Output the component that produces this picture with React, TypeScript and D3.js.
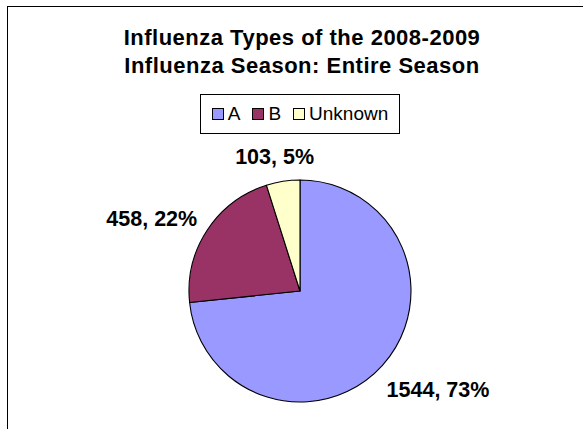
import React, { useEffect, useRef } from "react";
import * as d3 from "d3";

const categories = ["A", "B", "Unknown"];
const counts = [1544, 458, 103];
const colors = ["#9999FF", "#993366", "#FFFFCC"];
const titleLines = ["Influenza Types of the 2008-2009", "Influenza Season: Entire Season"];

const App: React.FC = () => {
  const chartRef = useRef<SVGSVGElement>(null);

  useEffect(() => {
    const width = 583;
    const height = 429;
    const cx = 300;
    const cy = 291;
    const radius = 111;
    const font = "'Liberation Sans', Arial, sans-serif";

    const svg = d3.select(chartRef.current);
    svg.selectAll("*").remove();
    svg.attr("width", width).attr("height", height);

    svg
      .append("rect")
      .attr("width", width)
      .attr("height", height)
      .attr("fill", "#fff");

    // outer chart border (right / bottom edges fall outside the picture)
    svg
      .append("rect")
      .attr("x", 7.5)
      .attr("y", 6.5)
      .attr("width", width + 20)
      .attr("height", height + 20)
      .attr("fill", "none")
      .attr("stroke", "#000")
      .attr("stroke-width", 1);

    // Title
    svg
      .append("g")
      .selectAll("text")
      .data(titleLines)
      .enter()
      .append("text")
      .attr("x", 302)
      .attr("y", (_d, i) => 45 + i * 28)
      .attr("text-anchor", "middle")
      .style("font-family", font)
      .style("font-weight", "bold")
      .style("font-size", "22px")
      .style("letter-spacing", "0.5px")
      .text((d) => d);

    // Legend
    const legend = svg.append("g");
    legend
      .append("rect")
      .attr("x", 200.5)
      .attr("y", 94.5)
      .attr("width", 199)
      .attr("height", 39)
      .attr("fill", "#fff")
      .attr("stroke", "#000");
    const sq = 11;
    const items = legend
      .selectAll("g.item")
      .data(categories)
      .enter()
      .append("g")
      .attr("class", "item");
    items
      .append("rect")
      .attr("width", sq)
      .attr("height", sq)
      .attr("y", 108.5)
      .attr("fill", (_d, i) => colors[i])
      .attr("stroke", "#000");
    const labels = items
      .append("text")
      .attr("y", 120)
      .style("font-family", font)
      .style("font-size", "19px")
      .text((d) => d);
    const widths: number[] = [];
    labels.each(function () {
      widths.push((this as SVGTextElement).getComputedTextLength());
    });
    const gap = 12;
    const total = d3.sum(widths) + categories.length * (sq + 5) + gap * (categories.length - 1);
    let x0 = 300 - total / 2;
    items.each(function (_d, i) {
      const g = d3.select(this);
      g.select("rect").attr("x", Math.round(x0) + 0.5);
      g.select("text").attr("x", x0 + sq + 5);
      x0 += sq + 5 + widths[i] + gap;
    });

    // Pie
    const pie = d3
      .pie<number>()
      .sort(null)
      .value((d) => d);
    const arcs = pie(counts);
    const arc = d3.arc<d3.PieArcDatum<number>>().innerRadius(0).outerRadius(radius);
    const sumAll = d3.sum(counts);

    const pieG = svg.append("g").attr("transform", `translate(${cx},${cy})`);
    pieG
      .selectAll("path")
      .data(arcs)
      .enter()
      .append("path")
      .attr("d", arc)
      .attr("fill", (_d, i) => colors[i])
      .attr("stroke", "#000")
      .attr("stroke-width", 1.1)
      .attr("stroke-linejoin", "round");

    // Data labels, outside end
    const pad = 22;
    const capH = 15.5;
    const dl = pieG
      .selectAll("text")
      .data(arcs)
      .enter()
      .append("text")
      .attr("text-anchor", "middle")
      .style("font-family", font)
      .style("font-weight", "bold")
      .style("font-size", "21.5px")
      .text((d) => `${d.data}, ${Math.round((d.data / sumAll) * 100)}%`);
    dl.each(function (d) {
      const t = this as SVGTextElement;
      const w = t.getComputedTextLength();
      const a = (d.startAngle + d.endAngle) / 2;
      const lx = (radius + w / 2 + pad) * Math.sin(a);
      const ly = -(radius + capH / 2 + pad) * Math.cos(a);
      d3.select(t)
        .attr("x", lx + 1)
        .attr("y", ly + capH / 2 + 4);
    });
  }, []);

  return (
    <svg
      ref={chartRef}
      style={{ position: "absolute", left: 0, top: 0, display: "block" }}
    ></svg>
  );
};

export default App;
